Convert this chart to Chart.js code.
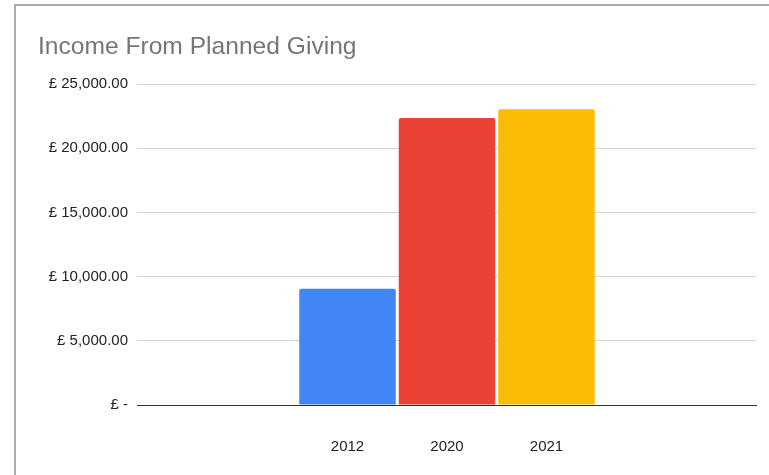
<!DOCTYPE html>
<html>
<head>
<meta charset="utf-8">
<script src="https://cdn.jsdelivr.net/npm/chart.js@4/dist/chart.umd.min.js"></script>
<style>
  html, body { margin: 0; padding: 0; background: #fff; }
  #wrap { position: relative; width: 769px; height: 475px; }
  #frame {
    position: absolute; left: 14px; top: 4px; right: 0; bottom: 0;
    border-top: 2px solid #ababab; border-left: 2px solid #ababab;
    pointer-events: none;
  }
</style>
</head>
<body>
<div id="wrap">
  <canvas id="myChart" width="769" height="475"></canvas>
  <div id="frame"></div>
</div>
<script>
var years = ['2012', '2020', '2021'];
var income = [9060, 22350, 23030];
var barColors = ['#4285F4', '#EA4335', '#FBBC04'];
var yTicks = [0, 5000, 10000, 15000, 20000, 25000];

function pounds(v) {
  if (v === 0) return '£ -';
  return '£ ' + v.toLocaleString('en-GB', { minimumFractionDigits: 2, maximumFractionDigits: 2 });
}

var ctx = document.getElementById('myChart').getContext('2d');
var chart = new Chart(ctx, {
  type: 'bar',
  data: {
    datasets: [
      {
        label: 'Income',
        data: income.map(function (v, i) { return { x: i, y: v }; }),
        backgroundColor: barColors,
        borderRadius: { topLeft: 2, topRight: 2 },
        borderSkipped: 'bottom',
        barPercentage: 0.97,
        categoryPercentage: 1
      }
    ]
  },
  options: {
    responsive: false,
    animation: false,
    layout: { padding: { left: 38, right: 13, top: 20, bottom: 20 } },
    plugins: {
      legend: { display: false },
      tooltip: { enabled: false },
      title: {
        display: true,
        text: 'Income From Planned Giving',
        align: 'start',
        color: '#757575',
        font: { family: '"Liberation Sans", Arial, sans-serif', size: 24.6, weight: 'normal' },
        padding: { top: 12, bottom: 22.5 }
      }
    },
    scales: {
      x: {
        type: 'linear',
        offset: false,
        min: -2.116,
        max: 4.106,
        afterBuildTicks: function (scale) {
          scale.ticks = years.map(function (y, i) { return { value: i }; });
        },
        afterFit: function (scale) { scale.height = 50; },
        ticks: {
          color: '#222',
          padding: 33,
          maxRotation: 0,
          autoSkip: false,
          font: { family: '"Liberation Sans", Arial, sans-serif', size: 15 },
          callback: function (v) { return years[v]; }
        },
        grid: { display: false, drawTicks: false },
        border: { display: true, color: '#333', width: 1 }
      },
      y: {
        min: 0,
        max: 25000,
        afterBuildTicks: function (scale) {
          scale.ticks = yTicks.map(function (v) { return { value: v }; });
        },
        afterFit: function (scale) { scale.width = 99; },
        ticks: {
          color: '#222',
          padding: 9,
          font: { family: '"Liberation Sans", Arial, sans-serif', size: 15 },
          callback: function (v) { return pounds(v); }
        },
        grid: {
          drawTicks: false,
          color: function (c) { return c.tick && c.tick.value === 0 ? 'rgba(0,0,0,0)' : '#d4d4d4'; }
        },
        border: { display: false }
      }
    }
  }
});
</script>
</body>
</html>
